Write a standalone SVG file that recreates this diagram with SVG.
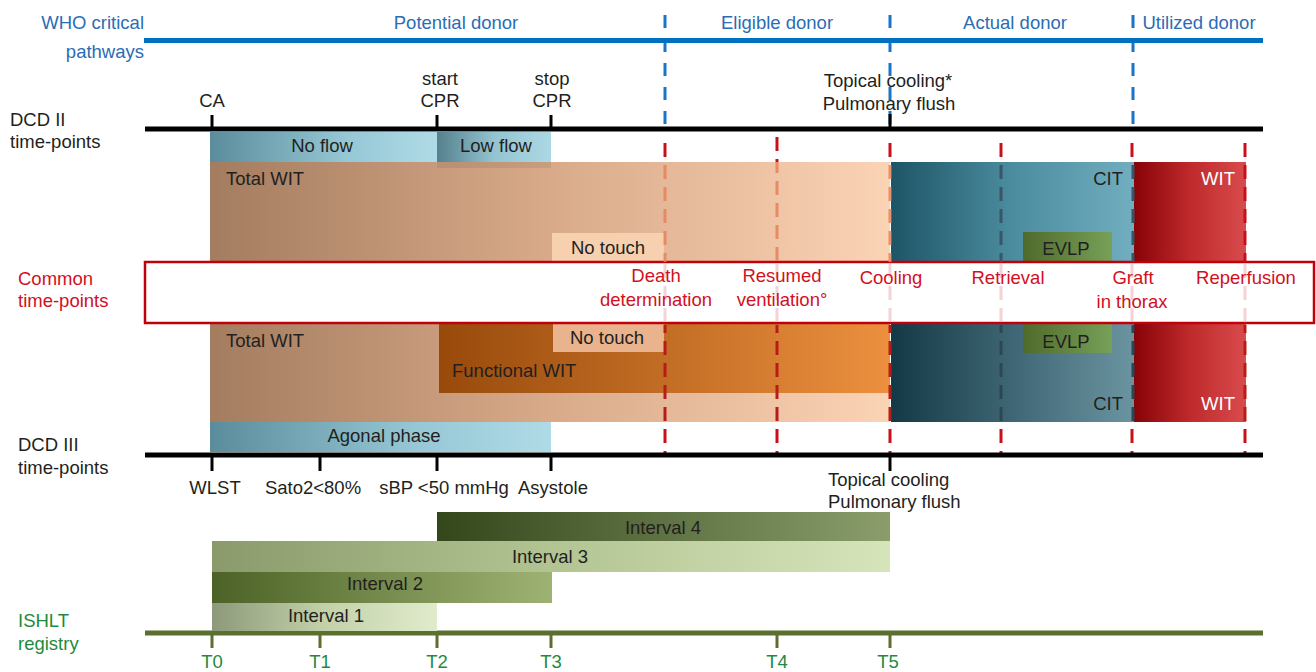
<svg xmlns="http://www.w3.org/2000/svg" width="1316" height="672" viewBox="0 0 1316 672">
<defs>
<linearGradient id="gBeige" x1="0" x2="1" y1="0" y2="0"><stop offset="0" stop-color="#a47c5f"/><stop offset="0.5" stop-color="#d8aa89"/><stop offset="1" stop-color="#fbd3b5"/></linearGradient>
<linearGradient id="gFunc" x1="0" x2="1" y1="0" y2="0"><stop offset="0" stop-color="#984a0b"/><stop offset="1" stop-color="#ec903f"/></linearGradient>
<linearGradient id="gBlue" x1="0" x2="1" y1="0" y2="0"><stop offset="0" stop-color="#5b8c9b"/><stop offset="0.6" stop-color="#96c7d5"/><stop offset="1" stop-color="#afdbe6"/></linearGradient>
<linearGradient id="gBlue2" x1="0" x2="1" y1="0" y2="0"><stop offset="0" stop-color="#55808d"/><stop offset="0.5" stop-color="#94c4d1"/><stop offset="1" stop-color="#acd8e4"/></linearGradient>
<linearGradient id="gCit1" x1="0" x2="1" y1="0" y2="0"><stop offset="0" stop-color="#1d5566"/><stop offset="0.5" stop-color="#4b8c9f"/><stop offset="1" stop-color="#71aebf"/></linearGradient>
<linearGradient id="gCit2" x1="0" x2="1" y1="0" y2="0"><stop offset="0" stop-color="#143946"/><stop offset="0.5" stop-color="#3f6674"/><stop offset="1" stop-color="#6b94a1"/></linearGradient>
<linearGradient id="gWit" x1="0" x2="1" y1="0" y2="0"><stop offset="0" stop-color="#870207"/><stop offset="0.5" stop-color="#bf2a2c"/><stop offset="1" stop-color="#d84b4c"/></linearGradient>
<linearGradient id="gEvlp" x1="0" x2="1" y1="0" y2="0"><stop offset="0" stop-color="#4f6a2c"/><stop offset="1" stop-color="#77a058"/></linearGradient>
<linearGradient id="gI4" x1="0" x2="1" y1="0" y2="0"><stop offset="0" stop-color="#33471b"/><stop offset="1" stop-color="#8a9d6b"/></linearGradient>
<linearGradient id="gI3" x1="0" x2="1" y1="0" y2="0"><stop offset="0" stop-color="#8a9a6a"/><stop offset="0.5" stop-color="#b3c493"/><stop offset="1" stop-color="#d6e5ba"/></linearGradient>
<linearGradient id="gI2" x1="0" x2="1" y1="0" y2="0"><stop offset="0" stop-color="#4c6226"/><stop offset="1" stop-color="#9eb373"/></linearGradient>
<linearGradient id="gI1" x1="0" x2="1" y1="0" y2="0"><stop offset="0" stop-color="#8d997a"/><stop offset="0.5" stop-color="#c3d1a9"/><stop offset="1" stop-color="#e0ebcc"/></linearGradient>
</defs>
<style>
text{font-family:"Liberation Sans",Arial,sans-serif;font-size:18.5px;}
.k{fill:#231f20;}
.b{fill:#2a6db5;}
.r{fill:#d2101e;}
.g{fill:#1e8b3e;}
.w{fill:#ffffff;}
.m{text-anchor:middle;}
.e{text-anchor:end;}
.axis{stroke:#000;stroke-width:5;}
.tick{stroke:#000;stroke-width:3;}
.gaxis{stroke:#5b6f2f;stroke-width:5;}
.gtick{stroke:#5b6f2f;stroke-width:3;}
.bd{stroke:#1a75c8;stroke-width:3;stroke-dasharray:13 11;}
.rd{stroke-width:3;stroke-dasharray:14 8;fill:none;}
</style>

<g id="who-labels">
<text class="b e" x="144" y="29">WHO critical</text>
<text class="b e" x="144" y="58">pathways</text>
<text class="b m" x="456" y="29">Potential donor</text>
<text class="b m" x="777" y="29">Eligible donor</text>
<text class="b m" x="1015" y="29">Actual donor</text>
<text class="b m" x="1199" y="29">Utilized donor</text>
</g>

<g id="row-labels">
<text class="k" x="10" y="126">DCD II</text>
<text class="k" x="10" y="148">time-points</text>
<text class="r" x="18" y="285">Common</text>
<text class="r" x="18" y="307">time-points</text>
<text class="k" x="18" y="451">DCD III</text>
<text class="k" x="18" y="474">time-points</text>
<text class="g" x="18" y="627">ISHLT</text>
<text class="g" x="18" y="650">registry</text>
</g>

<g id="dcd2-labels">
<text class="k m" x="212" y="107">CA</text>
<text class="k m" x="440" y="85">start</text>
<text class="k m" x="440" y="107">CPR</text>
<text class="k m" x="552" y="85">stop</text>
<text class="k m" x="552" y="107">CPR</text>
<text class="k m" x="888" y="87">Topical cooling*</text>
<text class="k m" x="889" y="110">Pulmonary flush</text>
</g>

<g id="top-band">
<rect id="total-wit-top" x="210" y="162" width="680" height="100" fill="url(#gBeige)"/>
<text class="k" x="226" y="185">Total WIT</text>
<rect x="437" y="162" width="114" height="6" fill="#000" opacity="0.07"/>
<g id="no-flow"><rect x="210" y="132" width="227" height="30" fill="url(#gBlue)"/><text class="k m" x="322" y="152">No flow</text></g>
<g id="low-flow"><rect x="437" y="132" width="114" height="30" fill="url(#gBlue2)"/><text class="k m" x="496" y="152">Low flow</text></g>
<g id="no-touch-top"><rect x="552" y="233" width="112" height="29" fill="#f7d0b0"/><text class="k m" x="608" y="254">No touch</text></g>
<g id="cit-top"><rect x="891" y="162" width="243" height="100" fill="url(#gCit1)"/><text class="k e" x="1123" y="185">CIT</text></g>
<g id="evlp-top"><rect x="1023" y="232" width="89" height="30" fill="url(#gEvlp)"/><text class="k m" x="1066" y="255">EVLP</text></g>
<g id="wit-top"><rect x="1134" y="162" width="112" height="100" fill="url(#gWit)"/><text class="w e" x="1235" y="185">WIT</text></g>
</g>

<g id="bottom-band">
<rect id="total-wit-bottom" x="210" y="323" width="680" height="99" fill="url(#gBeige)"/>
<text class="k" x="226" y="347">Total WIT</text>
<g id="functional-wit"><rect x="439" y="323" width="451" height="70" fill="url(#gFunc)"/><text class="k" x="452" y="377">Functional WIT</text></g>
<g id="no-touch-bottom"><rect x="553" y="323" width="111" height="29" fill="#e9b38d"/><text class="k m" x="607" y="344">No touch</text></g>
<g id="cit-bottom"><rect x="891" y="323" width="243" height="99" fill="url(#gCit2)"/><text class="k e" x="1123" y="410">CIT</text></g>
<g id="evlp-bottom"><rect x="1023" y="323" width="89" height="30" fill="url(#gEvlp)"/><text class="k m" x="1066" y="348">EVLP</text></g>
<g id="wit-bottom"><rect x="1134" y="323" width="112" height="99" fill="url(#gWit)"/><text class="w e" x="1235" y="410">WIT</text></g>
<g id="agonal"><rect x="210" y="422" width="341" height="30" fill="url(#gBlue)"/><text class="k m" x="384" y="442">Agonal phase</text></g>
</g>

<g id="common-box">
<rect x="145" y="262" width="1169" height="61" fill="#ffffff" stroke="#c0000b" stroke-width="2.5"/>
</g>

<g id="connectors">
<line class="bd" x1="665" y1="15" x2="665" y2="129"/>
<line class="bd" x1="890" y1="15" x2="890" y2="129"/>
<line class="bd" x1="1133" y1="15" x2="1133" y2="129"/>
<line x1="144" y1="40.5" x2="1263" y2="40.5" stroke="#0070c0" stroke-width="5"/>
<line class="axis" x1="145" y1="129" x2="1263" y2="129"/>
<line class="tick" x1="212" y1="115" x2="212" y2="129"/>
<line class="tick" x1="437" y1="115" x2="437" y2="129"/>
<line class="tick" x1="551" y1="115" x2="551" y2="129"/>
<line class="tick" x1="890" y1="114" x2="890" y2="129"/>

<g class="rd" stroke="#c8101a">
<line x1="665" y1="143" x2="665" y2="162"/><line x1="777" y1="137" x2="777" y2="162"/><line x1="890" y1="143" x2="890" y2="162"/>
<line x1="1001" y1="143" x2="1001" y2="162"/><line x1="1132" y1="143" x2="1132" y2="162"/><line x1="1245" y1="143" x2="1245" y2="162"/>
</g>
<g class="rd" stroke="#e8835a" opacity="0.85">
<line x1="665" y1="162" x2="665" y2="262" stroke-dashoffset="19"/>
<line x1="777" y1="162" x2="777" y2="262" stroke-dashoffset="25"/>
<line x1="890" y1="162" x2="890" y2="262" stroke-dashoffset="19"/>
</g>
<g class="rd" stroke="#3a5566">
<line x1="1001" y1="162" x2="1001" y2="262" stroke-dashoffset="19"/>
<line x1="1133" y1="162" x2="1133" y2="262" stroke-dashoffset="19"/>
</g>
<line class="rd" stroke="#c8101a" x1="1245" y1="162" x2="1245" y2="262" stroke-dashoffset="19"/>
<g class="rd" stroke="#c8101a" opacity="0.18">
<line x1="665" y1="264" x2="665" y2="321"/><line x1="777" y1="264" x2="777" y2="321"/><line x1="890" y1="264" x2="890" y2="321"/>
<line x1="1001" y1="264" x2="1001" y2="321"/><line x1="1132" y1="264" x2="1132" y2="321"/><line x1="1245" y1="264" x2="1245" y2="321"/>
</g>
<g class="rd" stroke="#b81c16">
<line x1="665" y1="325" x2="665" y2="422" stroke-dashoffset="6"/>
<line x1="777" y1="325" x2="777" y2="422" stroke-dashoffset="6"/>
<line x1="890" y1="325" x2="890" y2="422" stroke-dashoffset="6"/>
<line x1="1245" y1="325" x2="1245" y2="422" stroke-dashoffset="6"/>
</g>
<g class="rd" stroke="#2c4653">
<line x1="1001" y1="325" x2="1001" y2="422" stroke-dashoffset="6"/>
<line x1="1133" y1="325" x2="1133" y2="422" stroke-dashoffset="6"/>
</g>
<g class="rd" stroke="#c8101a">
<line x1="665" y1="422" x2="665" y2="453" stroke-dashoffset="15"/><line x1="777" y1="422" x2="777" y2="453" stroke-dashoffset="15"/>
<line x1="890" y1="422" x2="890" y2="453" stroke-dashoffset="15"/><line x1="1001" y1="422" x2="1001" y2="453" stroke-dashoffset="15"/>
<line x1="1132" y1="422" x2="1132" y2="453" stroke-dashoffset="15"/><line x1="1245" y1="422" x2="1245" y2="453" stroke-dashoffset="15"/>
</g>

<line class="axis" x1="145" y1="455" x2="1263" y2="455"/>
<line class="tick" x1="212" y1="455" x2="212" y2="471"/>
<line class="tick" x1="320" y1="455" x2="320" y2="471"/>
<line class="tick" x1="437" y1="455" x2="437" y2="471"/>
<line class="tick" x1="551" y1="455" x2="551" y2="471"/>
<line class="tick" x1="890" y1="455" x2="890" y2="471"/>

<line class="gaxis" x1="145" y1="633" x2="1263" y2="633"/>
<line class="gtick" x1="212" y1="633" x2="212" y2="648"/>
<line class="gtick" x1="320" y1="633" x2="320" y2="648"/>
<line class="gtick" x1="437" y1="633" x2="437" y2="648"/>
<line class="gtick" x1="551" y1="633" x2="551" y2="648"/>
<line class="gtick" x1="777" y1="633" x2="777" y2="648"/>
<line class="gtick" x1="890" y1="633" x2="890" y2="648"/>
</g>

<g id="common-labels">
<text class="r m" x="656" y="282">Death</text>
<text class="r m" x="656" y="306">determination</text>
<text class="r m" x="782" y="282">Resumed</text>
<text class="r m" x="782" y="306">ventilation°</text>
<text class="r m" x="891" y="284">Cooling</text>
<text class="r m" x="1008" y="284">Retrieval</text>
<text class="r m" x="1133" y="284">Graft</text>
<text class="r m" x="1132" y="308">in thorax</text>
<text class="r m" x="1246" y="284">Reperfusion</text>
</g>

<g id="dcd3-labels">
<text class="k m" x="215" y="494">WLST</text>
<text class="k m" x="313" y="494">Sato2&lt;80%</text>
<text class="k m" x="444" y="494">sBP &lt;50 mmHg</text>
<text class="k m" x="553" y="494">Asystole</text>
<text class="k" x="828" y="486">Topical cooling</text>
<text class="k" x="828" y="508">Pulmonary flush</text>
</g>

<g id="intervals">
<g id="interval-4"><rect x="437" y="512" width="453" height="29" fill="url(#gI4)"/><text class="k m" x="663" y="534">Interval 4</text></g>
<g id="interval-3"><rect x="212" y="541" width="678" height="31" fill="url(#gI3)"/><text class="k m" x="550" y="563">Interval 3</text></g>
<g id="interval-2"><rect x="212" y="572" width="340" height="31" fill="url(#gI2)"/><text class="k m" x="385" y="590">Interval 2</text></g>
<g id="interval-1"><rect x="212" y="603" width="225" height="28" fill="url(#gI1)"/><text class="k m" x="326" y="622">Interval 1</text></g>
</g>

<g id="ishlt-labels">
<text class="g m" x="212" y="668">T0</text>
<text class="g m" x="320" y="668">T1</text>
<text class="g m" x="437" y="668">T2</text>
<text class="g m" x="551" y="668">T3</text>
<text class="g m" x="777" y="668">T4</text>
<text class="g m" x="888" y="668">T5</text>
</g>
</svg>
